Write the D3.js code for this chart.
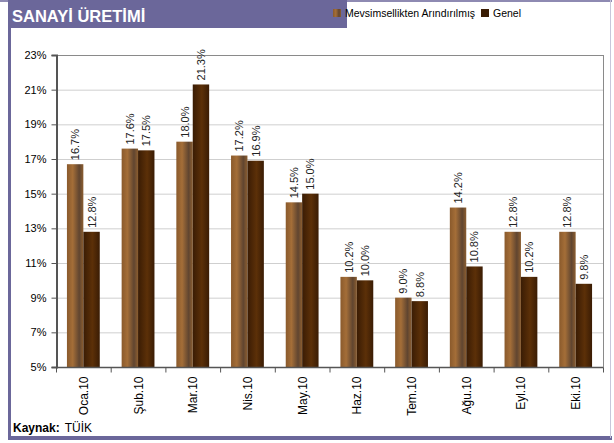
<!DOCTYPE html>
<html>
<head>
    <meta charset='utf-8' />
    <title>Sanayi Üretimi</title>
    <script src="https://cdn.jsdelivr.net/npm/d3@7"></script>
    <style>
        body { margin: 0; padding: 0; background: #fff; }
        svg { display: block; font-family: "Liberation Sans", Arial, sans-serif; }
    </style>
</head>
<body>
    <div id='chart'></div>
    <script>
        var categories = ["Oca.10", "Şub.10", "Mar.10", "Nis.10", "May.10", "Haz.10", "Tem.10", "Ağu.10", "Eyl.10", "Eki.10"];
        var seriesNames = ["Mevsimsellikten Arındırılmış", "Genel"];
        var seasonal = [16.7, 17.6, 18.0, 17.2, 14.5, 10.2, 9.0, 14.2, 12.8, 12.8];
        var general = [12.8, 17.5, 21.3, 16.9, 15.0, 10.0, 8.8, 10.8, 10.2, 9.8];
        var yTicks = [5, 7, 9, 11, 13, 15, 17, 19, 21, 23];

        var W = 614, H = 443;
        var plot = { left: 56, right: 603, top: 55, bottom: 367 };

        var svg = d3.select('#chart').append('svg').attr('width', W).attr('height', H);

        // gradients for the bars
        var defs = svg.append('defs');
        var g1 = defs.append('linearGradient').attr('id', 'gSeason').attr('x1', '0%').attr('x2', '100%');
        g1.append('stop').attr('offset', '0%').attr('stop-color', '#8a5a2c');
        g1.append('stop').attr('offset', '35%').attr('stop-color', '#a46e38');
        g1.append('stop').attr('offset', '75%').attr('stop-color', '#604530');
        g1.append('stop').attr('offset', '100%').attr('stop-color', '#8c5e30');
        var g2 = defs.append('linearGradient').attr('id', 'gGeneral').attr('x1', '0%').attr('x2', '100%');
        g2.append('stop').attr('offset', '0%').attr('stop-color', '#3a1c04');
        g2.append('stop').attr('offset', '55%').attr('stop-color', '#5c3008');
        g2.append('stop').attr('offset', '100%').attr('stop-color', '#3a1c04');

        // frame
        svg.append('rect').attr('x', 0).attr('y', 0).attr('width', 612).attr('height', 2).attr('fill', '#8e8ab2');
        svg.append('rect').attr('x', 8).attr('y', 0).attr('width', 3).attr('height', 440).attr('fill', '#6b679a');
        svg.append('rect').attr('x', 8).attr('y', 436).attr('width', 604).attr('height', 4).attr('fill', '#6b679a');
        svg.append('rect').attr('x', 610).attr('y', 0).attr('width', 1).attr('height', 438).attr('fill', '#c8c6da');
        svg.append('rect').attr('x', 8).attr('y', 0).attr('width', 339).attr('height', 28).attr('fill', '#6b679a');
        svg.append('text').attr('x', 12).attr('y', 22).attr('fill', '#fff')
            .style('font-size', '16.5px').style('font-weight', 'bold').text('SANAYİ ÜRETİMİ');

        // legend
        var legendColors = ['url(#gSeason)', '#3a1c04'];
        var legendX = [333, 481];
        seriesNames.forEach(function (name, i) {
            svg.append('rect').attr('x', legendX[i]).attr('y', 9).attr('width', 8).attr('height', 8)
                .attr('fill', legendColors[i]);
            svg.append('text').attr('x', legendX[i] + 12).attr('y', 17).attr('fill', '#000')
                .style('font-size', '10.5px').text(name);
        });

        var y = d3.scaleLinear().domain([5, 23]).range([plot.bottom, plot.top]);
        var x0 = d3.scaleBand().domain(categories).range([plot.left, plot.right]).paddingInner(0.4).paddingOuter(0.2);
        var x1 = d3.scaleBand().domain([0, 1]).range([0, x0.bandwidth()]);
        var xEdge = d3.scaleBand().domain(categories).range([plot.left, plot.right]);

        // gridlines
        svg.append('g').selectAll('line').data(yTicks.slice(1, -1)).enter().append('line')
            .attr('x1', plot.left).attr('x2', plot.right)
            .attr('y1', function (d) { return y(d) + 0.5; }).attr('y2', function (d) { return y(d) + 0.5; })
            .attr('stroke', '#cfcfcf').attr('stroke-width', 1);
        svg.append('rect').attr('x', plot.left + 0.5).attr('y', plot.top + 0.5)
            .attr('width', plot.right - plot.left).attr('height', plot.bottom - plot.top)
            .attr('fill', 'none').attr('stroke', '#8a8a8a');

        // bars
        var rows = categories.map(function (c, i) { return { cat: c, vals: [seasonal[i], general[i]] }; });
        var groups = svg.append('g').selectAll('g').data(rows).enter().append('g')
            .attr('transform', function (d) { return 'translate(' + x0(d.cat) + ',0)'; });
        var fills = ['url(#gSeason)', 'url(#gGeneral)'];
        groups.selectAll('rect').data(function (d) { return d.vals; }).enter().append('rect')
            .attr('x', function (d, i) { return x1(i); })
            .attr('y', function (d) { return y(d); })
            .attr('width', x1.bandwidth())
            .attr('height', function (d) { return plot.bottom - y(d); })
            .attr('fill', function (d, i) { return fills[i]; });
        groups.selectAll('text').data(function (d) { return d.vals; }).enter().append('text')
            .attr('transform', function (d, i) {
                return 'translate(' + (x1(i) + x1.bandwidth() / 2 + 4) + ',' + (y(d) - 4) + ') rotate(-90)';
            })
            .attr('fill', '#222').style('font-size', '11px')
            .text(function (d) { return d.toFixed(1) + '%'; });

        // axes
        var yAxis = svg.append('g').attr('transform', 'translate(' + (plot.left + 0.5) + ',0)')
            .call(d3.axisLeft(y).tickValues(yTicks).tickSize(5).tickPadding(5)
                .tickFormat(function (d) { return d + '%'; }));
        yAxis.attr('font-family', null).attr('font-size', null);
        yAxis.select('.domain').attr('stroke', '#555').attr('stroke-width', 2);
        yAxis.selectAll('.tick line').attr('stroke', '#555');
        yAxis.selectAll('text').style('font-size', '11px').attr('fill', '#000');

        var xg = svg.append('g').attr('transform', 'translate(0,' + (plot.bottom + 0.5) + ')');
        xg.append('line').attr('x1', plot.left).attr('x2', plot.right).attr('stroke', '#555').attr('stroke-width', 1.5);
        xg.selectAll('line.tk').data(categories.concat(['end'])).enter().append('line').attr('class', 'tk')
            .attr('x1', function (d, i) { return i < categories.length ? xEdge(d) + 0.5 : plot.right + 0.5; })
            .attr('x2', function (d, i) { return i < categories.length ? xEdge(d) + 0.5 : plot.right + 0.5; })
            .attr('y1', 0).attr('y2', 5).attr('stroke', '#555');
        xg.selectAll('text').data(categories).enter().append('text')
            .attr('transform', function (d) { return 'translate(' + (x0(d) + x0.bandwidth() / 2 + 4.5) + ',9) rotate(-90)'; })
            .attr('text-anchor', 'end').attr('fill', '#000').style('font-size', '12px')
            .text(function (d) { return d; });

        // source
        var src = svg.append('text').attr('x', 13).attr('y', 432).style('font-size', '12px').attr('fill', '#000');
        src.append('tspan').style('font-weight', 'bold').text('Kaynak:');
        src.append('tspan').attr('dx', 5).text('TÜİK');
    </script>
</body>
</html>
